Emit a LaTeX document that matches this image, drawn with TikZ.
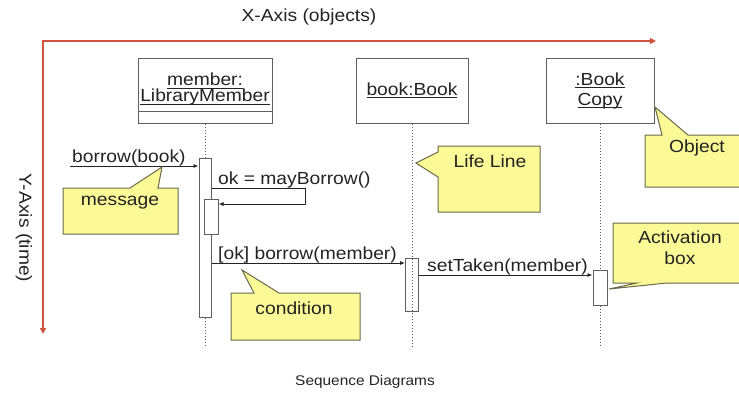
\documentclass[tikz,border=0pt]{standalone}
\usepackage{fontspec}
\setmainfont{Liberation Sans}[FakeStretch=1.1]
\usetikzlibrary{arrows.meta}
\definecolor{axisred}{RGB}{206,84,62}
\definecolor{boxline}{RGB}{95,95,95}
\definecolor{callfill}{RGB}{252,250,150}
\definecolor{callline}{RGB}{105,105,75}
\definecolor{txt}{RGB}{35,35,35}
\newcommand\myul[1]{\setbox0\hbox{#1}\rlap{\rule[-3pt]{\wd0}{0.9pt}}\box0}
\begin{document}
\begin{tikzpicture}[x=1pt,y=-1pt,
  every node/.style={text=txt, font=\fontsize{17.5}{17}\selectfont, inner sep=0pt, align=center},
  objbox/.style={draw=boxline, fill=white, line width=1pt},
  actbox/.style={draw=boxline, line width=1pt},
  life/.style={boxline, line width=1pt, dash pattern=on 1.5pt off 1.5pt},
  msg/.style={txt, line width=0.9pt, -{Latex[length=5pt,width=4pt]}},
  call/.style={fill=callfill, draw=callline, line width=1pt, line join=miter},
  axis/.style={axisred, line width=2pt, line join=miter},
  lbl/.style={anchor=base west}]
\useasboundingbox (0,0) rectangle (739,392);
\clip (0,0) rectangle (739,392);

% axes
\node (xlab) at (309,17) {X-Axis (objects)};
\node[rotate=-90] (ylab) at (24,228) {Y-Axis (time)};
\coordinate (org) at (43,41);
\coordinate (xend) at (656,41);
\coordinate (yend) at (43,334);
\draw[axis, {Triangle[length=6pt,width=6pt]}-{Triangle[length=6pt,width=6pt]}] (yend) -- (org) -- (xend);

% objects
\node[objbox, minimum width=134pt, minimum height=65pt] (mem) at (205,90.5) {};
\node (memtxt) at (205,89) {\myul{member:}\\[-1pt]\myul{LibraryMember}};
\draw[boxline, line width=1pt] ([yshift=12pt]mem.south west) -- ([yshift=12pt]mem.south east);
\node[objbox, minimum width=112pt, minimum height=65pt] (bk) at (412,90.5) {\myul{book:Book}};
\node[objbox, minimum width=108pt, minimum height=65pt] (bc) at (600,90.5) {\myul{:Book}\\[3pt]\myul{Copy}};

% activations
\node[actbox, fill=white, minimum width=12pt, minimum height=159pt] (a1) at (205,237.5) {};
\node[actbox, fill=white, minimum width=14pt, minimum height=35pt] (a2) at (211,216.5) {};
\node[actbox, fill=white, minimum width=13pt, minimum height=53pt] (a3) at (412,284.5) {};
\node[actbox, fill=white, minimum width=14pt, minimum height=35pt] (a4) at (600,287.5) {};

% lifelines
\coordinate (e1) at (205,347);
\coordinate (e2) at (412,347);
\coordinate (e3) at (600,347);
\draw[life] (mem.south) -- (a1.north);
\draw[life] (a1.south) -- (e1);
\draw[life] (bk.south) -- (e2);
\draw[life] (bc.south) -- (a4.north);
\draw[life] (a4.south) -- (e3);

% messages
\coordinate (m1s) at (70,166);
\draw[msg] (m1s) -- (m1s -| a1.west);
\node[lbl] (m1l) at (72,162) {borrow(book)};

\coordinate (sr) at (305,188);
\coordinate (sb) at (305,204);
\draw[msg] (a1.east |- sr) -- (sr) -- (sb) -- (a2.east |- sb);
\node[lbl] (m2l) at (218,184) {ok = mayBorrow()};

\coordinate (m3y) at (0,263);
\draw[msg] (a1.east |- m3y) -- (a3.west |- m3y);
\node[lbl] (m3l) at (218,259) {[ok] borrow(member)};

\coordinate (m4y) at (0,275);
\draw[msg] (a3.east |- m4y) -- (a4.west |- m4y);
\node[lbl] (m4l) at (427,271) {setTaken(member)};

% callouts
\draw[call] (63,188) -- (130,188) -- (162,167) -- (158,188) -- (178,188) -- (178,234) -- (63,234) -- cycle;
\node (c1) at (120,203) {message};
\draw[call] (438,146) -- (540,146) -- (540,212) -- (438,212) -- (438,177) -- (416,163) -- (438,152) -- cycle;
\node (c2) at (490,161) {Life Line};
\draw[call] (645,135) -- (662,135) -- (655,107) -- (688,135) -- (760,135) -- (760,187) -- (645,187) -- cycle;
\node (c3) at (697,148) {Object};
\draw[call] (231,293) -- (254,293) -- (242,270) -- (279,293) -- (360,293) -- (360,340) -- (231,340) -- cycle;
\node (c4) at (294,308) {condition};
\draw[call] (613,223) -- (760,223) -- (760,283) -- (667,283) -- (609,289) -- (637,283) -- (613,283) -- cycle;
\node (c5) at (680,248) {Activation\\[4pt]box};

% caption
\node[font=\fontsize{14}{14}\selectfont] (cap) at (365,382) {Sequence Diagrams};
\end{tikzpicture}
\end{document}
